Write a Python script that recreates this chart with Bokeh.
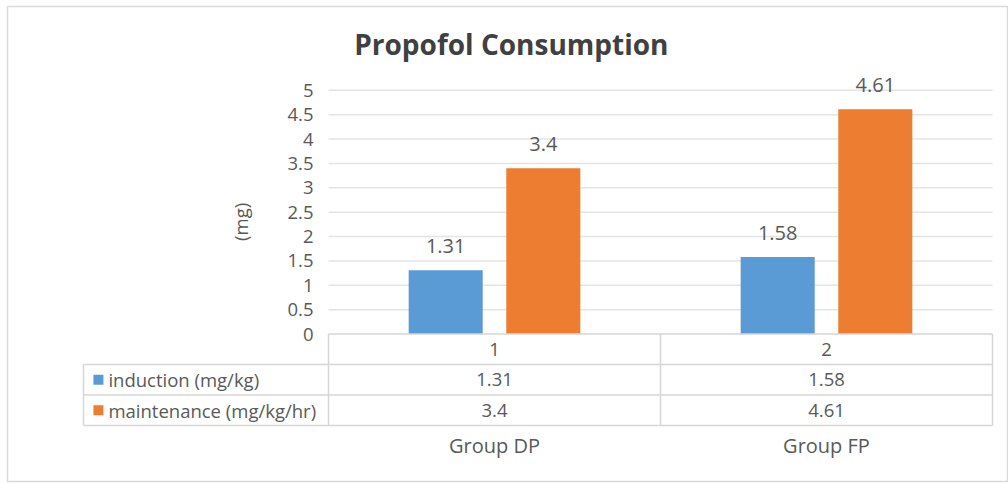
from bokeh.plotting import figure
from bokeh.models import Range1d
from bokeh.core.properties import value
from bokeh.embed import file_html
from bokeh.resources import INLINE

# ---- data ----
groups = ["Group DP", "Group FP"]
header = ["1", "2"]
series = ["induction (mg/kg)", "maintenance (mg/kg/hr)"]
induction = [1.31, 1.58]
maintenance = [3.4, 4.61]
y_ticks = [0, 0.5, 1, 1.5, 2, 2.5, 3, 3.5, 4, 4.5, 5]
y_tick_labels = ["0", "0.5", "1", "1.5", "2", "2.5", "3", "3.5", "4", "4.5", "5"]
title = "Propofol Consumption"
y_label = "(mg)"

# ---- style ----
BLUE = "#5B9BD5"
ORANGE = "#ED7D31"
TXT = "#595959"
GRID = "#E4E4E4"
TABLE = "#D6D6D6"
FONT = value("Open Sans")

# layout in data units (1 category = 1 x unit, value axis in mg)
PX_X = 332.0   # pixels per category
PX_Y = 48.75   # pixels per mg
W, H = 1008, 483
ML, MT, MB = 7, 6, 2
frame_w, frame_h = W - ML, H - MT - MB
x0_px, y0_px = 328.0, 333.5
xs = -(x0_px - ML) / PX_X
xe = xs + frame_w / PX_X
ye = (y0_px - MT) / PX_Y
ys = ye - frame_h / PX_Y

n = len(groups)
centers = [i + 0.5 for i in range(n)]
off = 0.147
bw = 0.223
row_h = 0.625
legend_left = -0.738

p = figure(width=W, height=H, output_backend="svg", toolbar_location=None,
           x_range=Range1d(xs, xe), y_range=Range1d(ys, ye),
           x_axis_location=None, y_axis_location=None,
           min_border_left=ML, min_border_top=MT, min_border_right=0,
           min_border_bottom=MB, title=None)
p.grid.visible = False
p.outline_line_color = "#D9D9D9"
p.outline_line_width = 1.5
p.background_fill_color = "white"
p.border_fill_color = "white"

# gridlines
gy = [t for t in y_ticks if t > 0]
p.segment(x0=[0] * len(gy), x1=[n] * len(gy), y0=gy, y1=gy,
          line_color=GRID, line_width=1.5)

# bars
p.vbar(x=[c - off for c in centers], top=induction, width=bw, bottom=0,
       fill_color=BLUE, line_color=None)
p.vbar(x=[c + off for c in centers], top=maintenance, width=bw, bottom=0,
       fill_color=ORANGE, line_color=None)

# bar value labels
p.text(x=[c - off for c in centers], y=induction,
       text=[f"{v:g}" for v in induction], text_align="center",
       text_baseline="middle", y_offset=-24, text_font=FONT,
       text_font_size="20px", text_color=TXT)
p.text(x=[c + off for c in centers], y=maintenance,
       text=[f"{v:g}" for v in maintenance], text_align="center",
       text_baseline="middle", y_offset=-24, text_font=FONT,
       text_font_size="20px", text_color=TXT)

# y tick labels
p.text(x=[-0.045] * len(y_ticks), y=y_ticks, text=y_tick_labels,
       text_align="right", text_baseline="middle", text_font=FONT,
       text_font_size="18.5px", text_color=TXT)

# y axis label
p.text(x=[-0.265], y=[2.3], text=[y_label], angle=1.5708,
       text_align="center", text_baseline="middle", text_font=FONT,
       text_font_size="18.5px", text_color=TXT)

# title
p.text(x=[(xs + xe) / 2 + 0.01], y=[5.94], text=[title], text_align="center",
       text_baseline="middle", text_font=FONT, text_font_size="28px",
       text_font_style="bold", text_color="#404040")

# data table lines
rows_y = [-row_h * k for k in range(4)]
hx0 = [0] + [legend_left] * 3
p.segment(x0=hx0, x1=[n] * 4, y0=rows_y, y1=rows_y,
          line_color=TABLE, line_width=1.5)
vx = [legend_left] + list(range(n + 1))
vy0 = [rows_y[1]] + [0] * (n + 1)
p.segment(x0=vx, x1=vx, y0=vy0, y1=[rows_y[3]] * len(vx),
          line_color=TABLE, line_width=1.5)

# table content
p.text(x=centers, y=[-row_h * 0.5] * n, text=header, text_align="center",
       text_baseline="middle", text_font=FONT, text_font_size="18.5px",
       text_color=TXT)
for r, (vals, col) in enumerate([(induction, BLUE), (maintenance, ORANGE)]):
    yc = -row_h * (r + 1.5)
    p.text(x=centers, y=[yc] * n, text=[f"{v:g}" for v in vals],
           text_align="center", text_baseline="middle", text_font=FONT,
           text_font_size="18.5px", text_color=TXT)
    p.scatter(x=[legend_left + 0.045], y=[yc], marker="square", size=10,
              fill_color=col, line_color=None)
    p.text(x=[legend_left + 0.075], y=[yc], text=[series[r]],
           text_align="left", text_baseline="middle", text_font=FONT,
           text_font_size="18.5px", text_color=TXT)

# group labels
p.text(x=centers, y=[-2.29] * n, text=groups, text_align="center",
       text_baseline="middle", text_font=FONT, text_font_size="20px",
       text_color=TXT)

open("out.html", "w").write(file_html(p, INLINE))
